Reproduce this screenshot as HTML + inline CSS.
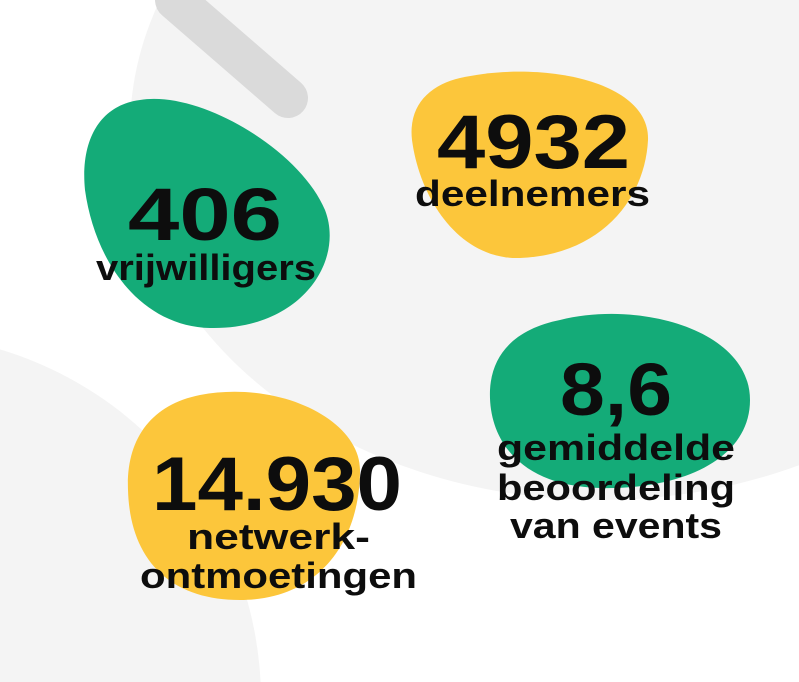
<!DOCTYPE html>
<html>
<head>
<meta charset="utf-8">
<style>
  html, body { margin: 0; padding: 0; background: #ffffff; width: 799px; height: 682px; overflow: hidden; }
  svg { display: block; }
  .num { font-family: "Liberation Sans", sans-serif; font-weight: 700; fill: #0d0d0d; }
  .lbl { font-family: "Liberation Sans", sans-serif; font-weight: 700; fill: #0d0d0d; }
</style>
</head>
<body>
<svg width="799" height="682" viewBox="0 0 799 682">
  <rect width="799" height="682" fill="#ffffff"/>
  <ellipse cx="600" cy="130" rx="470" ry="370" fill="#f4f4f4"/>
  <circle cx="-105" cy="700" r="366" fill="#f4f4f4"/>
  <line x1="175" y1="0" x2="288" y2="98" stroke="#dadada" stroke-width="40" stroke-linecap="round"/>

  <g>
    <path d="M140 100 C200 90 300 150 325 210 C345 262 300 330 210 328 C140 326 95 262 85 190 C80 140 100 105 140 100 Z" fill="#14ab78"/>
    <text class="num" x="128" y="240" font-size="74" textLength="154" lengthAdjust="spacingAndGlyphs">406</text>
    <text class="lbl" x="96" y="280" font-size="36" textLength="220" lengthAdjust="spacingAndGlyphs">vrijwilligers</text>
  </g>

  <g>
    <path d="M460 78 C540 60 650 80 648 140 C645 200 600 255 520 258 C460 260 420 200 412 140 C408 105 430 85 460 78 Z" fill="#fcc63b"/>
    <text class="num" x="437" y="168" font-size="76" textLength="193" lengthAdjust="spacingAndGlyphs">4932</text>
    <text class="lbl" x="415" y="206" font-size="36" textLength="235" lengthAdjust="spacingAndGlyphs">deelnemers</text>
  </g>

  <g>
    <path d="M560 320 C640 300 750 330 750 400 C750 460 680 490 600 488 C520 486 488 440 490 390 C492 350 520 328 560 320 Z" fill="#14ab78"/>
    <text class="num" x="560" y="415" font-size="74" textLength="112" lengthAdjust="spacingAndGlyphs">8,6</text>
    <text class="lbl" x="497" y="460" font-size="36" textLength="238" lengthAdjust="spacingAndGlyphs">gemiddelde</text>
    <text class="lbl" x="497" y="500" font-size="36" textLength="238" lengthAdjust="spacingAndGlyphs">beoordeling</text>
    <text class="lbl" x="510" y="538" font-size="36" textLength="212" lengthAdjust="spacingAndGlyphs">van events</text>
  </g>

  <g>
    <path d="M200 395 C280 380 360 420 360 470 C360 540 320 600 240 600 C170 600 130 560 128 490 C126 440 150 405 200 395 Z" fill="#fcc63b"/>
    <text class="num" x="152" y="510" font-size="76" textLength="250" lengthAdjust="spacingAndGlyphs">14.930</text>
    <text class="lbl" x="187" y="549" font-size="36" textLength="183" lengthAdjust="spacingAndGlyphs">netwerk-</text>
    <text class="lbl" x="140" y="588" font-size="36" textLength="277" lengthAdjust="spacingAndGlyphs">ontmoetingen</text>
  </g>
</svg>
</body>
</html>
